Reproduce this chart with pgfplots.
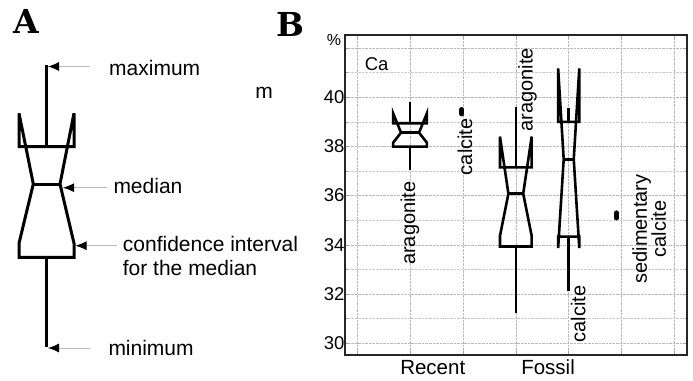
\documentclass[border=0pt]{standalone}
\usepackage{fontspec}
\setmainfont{Liberation Sans}
\newfontfamily\slab{DejaVu Serif}
\usepackage{pgfplots}
\pgfplotsset{compat=1.18}
\usetikzlibrary{arrows.meta}
\newcommand{\fsz}[1]{\fontsize{#1bp}{#1bp}\selectfont}
\begin{document}
\begin{tikzpicture}
\useasboundingbox (0,0) rectangle (693bp,381bp);
% ---------------- Panel A (pixel coordinate overlay) ----------------
\begin{axis}[at={(0,0)}, anchor=south west, width=693bp, height=381bp, scale only axis,
  xmin=0, xmax=693, ymin=0, ymax=381, y dir=reverse, hide axis, clip=false]
  % whiskers
  \addplot[black, line width=3bp] coordinates {(46.7,65) (46.7,146.7)};
  \addplot[black, line width=3bp] coordinates {(46.7,257.3) (46.7,346.7)};
  % notched box
  \addplot[black, line width=3bp, line join=miter] coordinates {
    (19,257.3) (19,243.3) (33.3,184) (19,113.3) (19,146.7) (74,146.7)
    (74,113.3) (60,184) (74,243.3) (74,257.3)} -- cycle;
  \addplot[black, line width=3bp] coordinates {(33.3,184) (60,184)};
  % arrows
  \addplot[gray!55, line width=0.8bp, -{Latex[length=11bp,width=9bp,black]}] coordinates {(90,66.5) (48,66.5)};
  \addplot[gray!55, line width=0.8bp, -{Latex[length=11bp,width=9bp,black]}] coordinates {(107,187.7) (63,187.7)};
  \addplot[gray!55, line width=0.8bp, -{Latex[length=11bp,width=9bp,black]}] coordinates {(117,245.7) (75.5,245.7)};
  \addplot[gray!55, line width=0.8bp, -{Latex[length=11bp,width=9bp,black]}] coordinates {(90,348) (48,348)};
  % labels
  \node[anchor=base west, font=\fsz{21}, inner sep=0pt] at (axis cs:109,75) {maximum};
  \node[anchor=base west, font=\fsz{21}, inner sep=0pt] at (axis cs:113.3,193.5) {median};
  \node[anchor=base west, font=\fsz{21}, inner sep=0pt] at (axis cs:122.7,251.7) {confidence interval};
  \node[anchor=base west, font=\fsz{21}, inner sep=0pt] at (axis cs:122.7,275) {for the median};
  \node[anchor=base west, font=\fsz{21}, inner sep=0pt] at (axis cs:108.3,355) {minimum};
  \node[font=\fsz{21}, inner sep=0pt] at (axis cs:264,93) {m};
  % panel letters
  \node[font=\slab\bfseries\fsz{33}, inner sep=0pt] at (axis cs:26.7,21.7) {A};
  \node[font=\slab\bfseries\fsz{33}, inner sep=0pt] at (axis cs:290,24.2) {B};
  % percent sign
  \node[font=\fsz{16}, inner sep=0pt] at (axis cs:334,40) {\%};
\end{axis}
% ---------------- Panel B ----------------
\begin{axis}[at={(345bp,26bp)}, anchor=south west, width=342bp, height=320bp, scale only axis,
  xmin=-0.229, xmax=6.236, ymin=29.52, ymax=42.53, clip=false,
  /pgf/number format/assume math mode=true,
  xtick={0,1,2,3,4,5,6}, xticklabels={,,,,,,},
  extra x ticks={1.43,3.61}, extra x tick labels={Recent,Fossil},
  extra x tick style={grid=none, major tick length=0pt,
     xticklabel style={font=\fsz{20.5}, anchor=north, text height=15bp, text depth=4bp, yshift=-1bp}},
  ytick={30,32,34,36,38,40,42}, yticklabels={30,32,34,36,38,40,},
  minor y tick num=1,
  yticklabel style={font=\fsz{18.5}, xshift=3bp},
  grid=both,
  major grid style={densely dotted, gray!55, line width=0.6bp},
  minor grid style={densely dotted, gray!40, line width=0.5bp},
  tick align=inside, major tick length=4bp, minor tick length=2.5bp,
  tick style={gray!70, line width=0.6bp},
  axis line style={black!85, line width=1.2bp},
]
  % Recent aragonite (x=1)
  \addplot[black, line width=2.6bp, line join=miter] coordinates {
    (0.68,37.99) (0.68,38.15) (0.83,38.56) (0.68,39.35) (0.68,38.94) (1.32,38.94)
    (1.32,39.35) (1.17,38.56) (1.32,38.15) (1.32,37.99)} -- cycle;
  \addplot[black, line width=2.6bp] coordinates {(0.83,38.56) (1.17,38.56)};
  \addplot[black, line width=2.6bp] coordinates {(1,38.94) (1,39.82)};
  \addplot[black, line width=2.6bp] coordinates {(1,37.99) (1,37.04)};
  % Recent calcite (x=2)
  \addplot[black, line width=5bp, line cap=round] coordinates {(1.98,39.32) (1.98,39.50)};
  % Fossil aragonite (x=3)
  \addplot[black, line width=2.6bp, line join=miter] coordinates {
    (2.70,33.93) (2.70,34.36) (2.86,36.08) (2.70,38.40) (2.70,37.15) (3.30,37.15)
    (3.30,38.40) (3.14,36.08) (3.30,34.36) (3.30,33.93)} -- cycle;
  \addplot[black, line width=2.6bp] coordinates {(2.86,36.08) (3.14,36.08)};
  \addplot[black, line width=2.6bp] coordinates {(3,37.15) (3,39.59)};
  \addplot[black, line width=2.6bp] coordinates {(3,33.93) (3,31.22)};
  % Fossil calcite (x=4)
  \addplot[black, line width=2.6bp, line join=miter] coordinates {
    (3.80,34.33) (3.80,33.87) (3.905,37.48) (3.80,41.17) (3.80,39.00) (4.20,39.00)
    (4.20,41.17) (4.095,37.48) (4.20,33.87) (4.20,34.33)} -- cycle;
  \addplot[black, line width=2.6bp] coordinates {(3.905,37.48) (4.095,37.48)};
  \addplot[black, line width=2.6bp] coordinates {(4,39.00) (4,39.55)};
  \addplot[black, line width=2.6bp] coordinates {(4,34.33) (4,32.14)};
  % sedimentary calcite (x=4.9)
  \addplot[black, line width=5bp, line cap=round] coordinates {(4.9,35.09) (4.9,35.30)};
  % labels
  \node[font=\fsz{18.5}, inner sep=0pt] at (axis cs:0.37,41.35) {Ca};
  \node[rotate=90, font=\fsz{20}, inner sep=0pt] at (axis cs:1.0,34.88) {aragonite};
  \node[rotate=90, font=\fsz{20}, inner sep=0pt] at (axis cs:2.04,37.99) {calcite};
  \node[rotate=90, font=\fsz{20}, inner sep=0pt] at (axis cs:3.22,40.30) {aragonite};
  \node[rotate=90, font=\fsz{20}, inner sep=0pt] at (axis cs:4.18,31.18) {calcite};
  \node[rotate=90, font=\fsz{20}, inner sep=0pt, align=center,
        execute at begin node={\setlength{\baselineskip}{19bp}}] at (axis cs:5.52,34.64) {sedimentary\\calcite};
\end{axis}
\end{tikzpicture}
\end{document}
